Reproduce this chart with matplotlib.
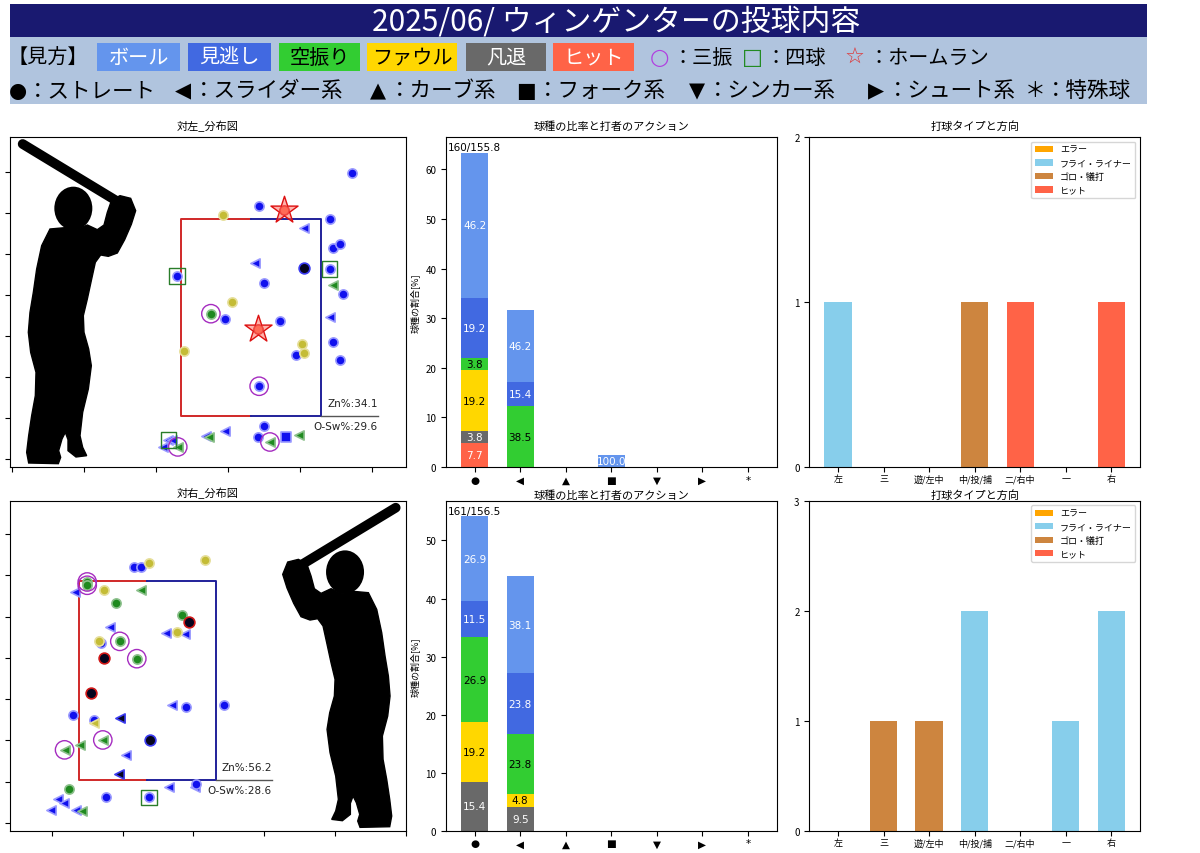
"""
Pitch summary sheet: location maps, pitch-type mix and batted-ball direction.
Writes out.png.
"""

import matplotlib

matplotlib.use("Agg")
import matplotlib.pyplot as plt
from matplotlib.patches import Ellipse, Polygon, Rectangle

plt.rcParams["font.family"] = ["Noto Sans CJK JP", "DejaVu Sans"]

TITLE = "2025/06/ ウィンゲンターの投球内容"

# ---- location maps (x, y in plot units) ---------------------------------
LHB_X = [3.43, 4.41, 4.46, 4.56, 2.29, 4.41, 3.50, 4.59, 2.96, 3.72, 4.45, 3.94, 4.56, 3.43, 3.50, 3.41, 4.72,
         2.93, 3.06, 2.38, 4.03, 4.06, 2.76, 4.05, 3.77, 3.41,
         4.05, 3.37, 4.41, 2.95, 2.09, 2.17, 2.22, 2.69,
         4.46, 2.73, 3.58, 3.98, 2.30, 3.80]
LHB_Y = [6.16, 5.84, 5.14, 5.23, 4.46, 4.63, 4.30, 4.02, 3.42, 3.37, 2.85, 2.53, 2.40, 1.77, 0.80, 0.53, 6.97,
         5.95, 3.83, 2.62, 2.81, 2.58, 3.54, 4.66, 6.08, 3.17,
         5.63, 4.78, 3.46, 0.68, 0.29, 0.46, 0.45, 0.56,
         4.24, 0.53, 0.41, 0.59, 0.29, 0.54]
LHB_PITCH = ["S"] * 26 + ["SL"] * 13 + ["FK"]
LHB_RES = (["ball"] * 6 + ["look", "ball", "look", "look", "ball", "look", "ball", "look", "ball", "ball", "ball"]
           + ["foul"] * 5 + ["swing", "out", "hit", "hit"]
           + ["ball"] * 8 + ["swing"] * 5 + ["ball"])
LHB_TAG = (["", "", "", "", "BB", "BB", "", "", "", "", "", "", "", "K", "", "", ""]
           + [""] * 5 + ["K", "", "HR", "HR"]
           + ["", "", "", "", "", "BB", "", ""]
           + ["", "", "K", "", "K", ""])

RHB_X = [1.16, 1.26, 2.43, 1.90, 0.30, 0.59, 0.70, 0.76, 1.37, 2.04,
         1.39, 0.74, 0.56, 1.94,
         1.37, 2.16, 0.74, 0.67, 1.77,
         0.50, 0.50, 0.90, 1.84, 0.96, 1.20, 0.24,
         0.96, 0.95, 0.59,
         1.26, 0.72, 0.18, 0.40, 0.42,
         0.33, 0.82, 1.61, 1.88, 1.69, 1.05, 1.65, 2.02, -0.01, 0.09, 0.17, 0.34]
RHB_Y = [6.21, 6.21, 2.86, 2.80, 2.62, 2.49, 4.37, 0.62, 0.62, 0.95,
         2.00, 4.00, 3.16, 4.88,
         6.29, 6.37, 5.64, 4.40, 4.63,
         5.84, 5.76, 5.34, 5.05, 4.40, 3.98, 0.82,
         2.54, 1.18, 2.41,
         5.64, 2.01, 1.77, 1.89, 0.29,
         5.60, 4.76, 4.61, 4.59, 2.86, 1.64, 0.88, 0.88, 0.31, 0.57, 0.49, 0.31]
RHB_PITCH = ["S"] * 26 + ["SL"] * 20
RHB_RES = (["ball", "ball", "look", "ball", "ball", "look", "ball", "ball", "ball", "look"]
           + ["out", "outR", "outR", "outR"] + ["foul"] * 5 + ["swing"] * 7
           + ["out", "out", "foul"] + ["swing"] * 5 + ["ball"] * 12)
RHB_TAG = ([""] * 8 + ["BB", ""] + [""] * 4 + [""] * 5
           + ["K", "K", "", "", "K", "K", ""]
           + [""] * 3 + ["", "K", "K", "", ""] + [""] * 12)

LHB_ZONE = (2.34, 1.05, 4.29, 5.86)
RHB_ZONE = (0.385, 1.05, 2.315, 5.86)
LHB_ZN, LHB_OSW = 34.1, 29.6
RHB_ZN, RHB_OSW = 56.2, 28.6

# ---- pitch mix (share of pitches, then % of each outcome) ---------------
PITCH_LABELS = ["●", "◀", "▲", "■", "▼", "▶", "*"]
LHB_SHARE = [63.4, 31.7, 0, 2.4, 0, 0, 0]
LHB_HIT = [7.7, 0, 0, 0, 0, 0, 0]
LHB_OUT = [3.8, 0, 0, 0, 0, 0, 0]
LHB_FOUL = [19.2, 0, 0, 0, 0, 0, 0]
LHB_SWING = [3.8, 38.5, 0, 0, 0, 0, 0]
LHB_LOOK = [19.2, 15.4, 0, 0, 0, 0, 0]
LHB_BALL = [46.2, 46.2, 0, 100.0, 0, 0, 0]
LHB_SPEED = "160/155.8"

RHB_SHARE = [54.2, 43.8, 0, 0, 0, 0, 0]
RHB_HIT = [0, 0, 0, 0, 0, 0, 0]
RHB_OUT = [15.4, 9.5, 0, 0, 0, 0, 0]
RHB_FOUL = [19.2, 4.8, 0, 0, 0, 0, 0]
RHB_SWING = [26.9, 23.8, 0, 0, 0, 0, 0]
RHB_LOOK = [11.5, 23.8, 0, 0, 0, 0, 0]
RHB_BALL = [26.9, 38.1, 0, 0, 0, 0, 0]
RHB_SPEED = "161/156.5"

# ---- batted balls --------------------------------------------------------
DIRECTIONS = ["左", "三", "遊/左中", "中/投/捕", "二/右中", "一", "右"]
LHB_ERR = [0, 0, 0, 0, 0, 0, 0]
LHB_FLY = [1, 0, 0, 0, 0, 0, 0]
LHB_GRO = [0, 0, 0, 1, 0, 0, 0]
LHB_BHIT = [0, 0, 0, 0, 1, 0, 1]
RHB_ERR = [0, 0, 0, 0, 0, 0, 0]
RHB_FLY = [0, 0, 0, 2, 0, 1, 2]
RHB_GRO = [0, 1, 1, 0, 0, 0, 0]
RHB_BHIT = [0, 0, 0, 0, 0, 0, 0]

# ---- styling -------------------------------------------------------------
C_BALL, C_LOOK, C_SWING = "#6495ED", "#4169E1", "#32CD32"
C_FOUL, C_OUT, C_HIT = "#FFD700", "#696969", "#FF6347"
SEG_TEXT = {"hit": "white", "out": "white", "foul": "black",
            "swing": "black", "look": "white", "ball": "white"}

MARKERS = {"S": "o", "SL": "<", "FK": "s"}
PT_FACE = {"ball": "#1010ee", "look": "#1010ee", "swing": "#1f8a1f", "foul": "#c4bc36",
           "out": "#05051e", "outR": "#05051e", "hit": "#FF6347"}
PT_EDGE = {"ball": "#9a9aff", "look": "#9a9aff", "swing": "#8cc08c", "foul": "#e6df9a",
           "out": "#3c3cf0", "outR": "#d01818", "hit": "#dd1010"}
DRAW_ORDER = ["ball", "look", "foul", "swing", "out", "outR", "hit"]

# batter outline (normalised to the left-hand panel, mirrored for the right one)
SIL_BODY = [(150, 330), (125, 380), (110, 450), (100, 520), (90, 580), (85, 640), (92, 700),
            (108, 760), (106, 830), (95, 890), (86, 950), (80, 1000), (86, 1032), (175, 1034),
            (182, 1015), (176, 995), (186, 960), (196, 940), (204, 962), (204, 995),
            (228, 1014), (260, 1010), (248, 985), (240, 950), (248, 880), (265, 810), (274, 740),
            (266, 690), (252, 640), (250, 590), (262, 540), (275, 480), (286, 430), (302, 408),
            (325, 412), (352, 402), (374, 362), (394, 316), (407, 275), (392, 238), (360, 230),
            (335, 243), (322, 280), (312, 318), (292, 332), (262, 318), (230, 332), (195, 326)]
SIL_HEAD = (220, 268, 114, 130)
SIL_BAT = [(68, 75), (360, 252)]


def sil_xy(zx, zy, mirror):
    fx = (zx / 3 - 10) / 396
    fy = (348 - zy / 3) / 330
    if mirror:
        fx = 1.006 - fx
    return fx, fy


def draw_batter(ax, mirror):
    body = [sil_xy(x, y, mirror) for x, y in SIL_BODY]
    ax.add_patch(Polygon(body, closed=True, facecolor="black", edgecolor="black",
                         transform=ax.transAxes, zorder=1))
    hx, hy = sil_xy(SIL_HEAD[0], SIL_HEAD[1], mirror)
    ax.add_patch(Ellipse((hx, hy), SIL_HEAD[2] / 3 / 396, SIL_HEAD[3] / 3 / 330,
                         facecolor="black", transform=ax.transAxes, zorder=1))
    bat = [sil_xy(x, y, mirror) for x, y in SIL_BAT]
    ax.plot([bat[0][0], bat[1][0]], [bat[0][1], bat[1][1]], color="black", lw=7,
            solid_capstyle="round", transform=ax.transAxes, zorder=1)


def draw_map(ax, xs, ys, pitches, results, tags, zone, zn, osw, xlim, ylim, title, mirror, pad):
    x0, y0, x1, y1 = zone
    mid = (x0 + x1) / 2
    ax.plot([mid, x0, x0, mid], [y1, y1, y0, y0], color="#d02828", lw=1.4, zorder=2)
    ax.plot([mid, x1, x1, mid], [y1, y1, y0, y0], color="#20209a", lw=1.4, zorder=2)
    ax.plot([x1, x1 + 0.79], [y0, y0], color="#555555", lw=1.0, zorder=2)
    ax.text(x1 + 0.79, y0 + 0.18, f"Zn%:{zn}", ha="right", va="bottom", fontsize=7.5,
            color="#222222", family="DejaVu Sans")
    ax.text(x1 + 0.79, y0 - 0.12, f"O-Sw%:{osw}", ha="right", va="top", fontsize=7.5,
            color="#222222", family="DejaVu Sans")

    for res in DRAW_ORDER:
        for ptype, marker in MARKERS.items():
            idx = [i for i in range(len(xs)) if results[i] == res and pitches[i] == ptype]
            if not idx:
                continue
            size = 60 if res in ("out", "outR") and ptype == "S" else 44
            ax.scatter([xs[i] for i in idx], [ys[i] for i in idx], marker=marker, s=size,
                       c=PT_FACE[res], edgecolors=PT_EDGE[res], linewidths=1.2, zorder=4)

    for tag, marker, size, edge in (("K", "o", 175, "#a52cc0"), ("BB", "s", 125, "#2a7d2a")):
        idx = [i for i in range(len(xs)) if tags[i] == tag]
        if idx:
            ax.scatter([xs[i] for i in idx], [ys[i] for i in idx], marker=marker, s=size,
                       facecolors="none", edgecolors=edge, linewidths=1.0, zorder=5)
    idx = [i for i in range(len(xs)) if tags[i] == "HR"]
    if idx:
        ax.scatter([xs[i] for i in idx], [ys[i] for i in idx], marker="*", s=420,
                   facecolors=(1.0, 0.45, 0.40, 0.55), edgecolors="#dd1010", linewidths=1.0,
                   zorder=5)

    draw_batter(ax, mirror)
    ax.set_xlim(*xlim)
    ax.set_ylim(*ylim)
    ax.set_xticks(range(0, 6))
    ax.set_yticks(range(0, 8))
    ax.set_xticklabels([])
    ax.set_yticklabels([])
    ax.set_title(title, fontsize=8, pad=pad)


def draw_mix(ax, share, segs, speed, pad):
    x = list(range(len(PITCH_LABELS)))
    bottom = [0.0] * len(x)
    for name, pct, color in segs:
        heights = [s * p / 100 for s, p in zip(share, pct)]
        ax.bar(x, heights, 0.6, bottom=bottom, color=color)
        for i, (h, p) in enumerate(zip(heights, pct)):
            if p > 0:
                ax.text(i, bottom[i] + h / 2, f"{p:.1f}", ha="center", va="center",
                        fontsize=7.5, color=SEG_TEXT[name], family="DejaVu Sans")
        bottom = [b + h for b, h in zip(bottom, heights)]
    ax.text(0, share[0], speed, ha="center", va="bottom", fontsize=7.5, family="DejaVu Sans")
    ax.set_xticks(x)
    ax.set_xticklabels(PITCH_LABELS, fontsize=7.5, family="DejaVu Sans")
    ax.tick_params(axis="x", pad=2)
    ax.tick_params(axis="y", labelsize=7)
    ax.set_ylabel("球種の割合[%]", fontsize=6.5)
    ax.set_title("球種の比率と打者のアクション", fontsize=8, pad=pad)


def draw_batted(ax, err, fly, gro, hit, pad):
    x = list(range(len(DIRECTIONS)))
    bottom = [0] * len(x)
    for vals, color, label in ((err, "#FFA500", "エラー"), (fly, "#87CEEB", "フライ・ライナー"),
                               (gro, "#CD853F", "ゴロ・犠打"), (hit, "#FF6347", "ヒット")):
        ax.bar(x, vals, 0.6, bottom=bottom, color=color, label=label)
        bottom = [b + v for b, v in zip(bottom, vals)]
    top = max(bottom) + 1
    ax.set_ylim(0, top)
    ax.set_yticks(range(0, top + 1))
    ax.set_xticks(x)
    ax.set_xticklabels(DIRECTIONS, fontsize=6.5)
    ax.tick_params(axis="x", pad=1.5)
    ax.tick_params(axis="y", labelsize=7)
    ax.legend(loc="upper right", fontsize=6.5)
    ax.set_title("打球タイプと方向", fontsize=8, pad=pad)


def draw_header(fig):
    hax = fig.add_axes([0, 1 - 110 / 854, 1, 110 / 854])
    hax.set_xlim(0, 1200)
    hax.set_ylim(110, 0)
    hax.axis("off")
    hax.add_patch(Rectangle((10, 5), 1137, 33, facecolor="#191970", edgecolor="none"))
    hax.add_patch(Rectangle((10, 38), 1137, 67, facecolor="#B0C4DE", edgecolor="none"))
    hax.text(616, 21.5, TITLE, ha="center", va="center", fontsize=21.5, color="white")

    y1, y2 = 58, 91
    hax.text(8, y1, "【見方】", ha="left", va="center", fontsize=14.5)
    boxes = [(97, 180, "ボール", C_BALL, "white"), (188, 271, "見逃し", C_LOOK, "white"),
             (279, 360, "空振り", C_SWING, "black"), (367, 457, "ファウル", C_FOUL, "black"),
             (466, 546, "凡退", C_OUT, "white"), (553, 634, "ヒット", C_HIT, "white")]
    for left, right, label, bg, fg in boxes:
        hax.add_patch(Rectangle((left, 44), right - left, 28, facecolor=bg, edgecolor="none"))
        hax.text((left + right) / 2, y1, label, ha="center", va="center", fontsize=14.5, color=fg)
    for cx, sym, color, tx, label in ((659, "○", "#b040e0", 672, "：三振"),
                                      (752, "□", "#228B22", 765, "：四球"),
                                      (855, "☆", "#e03030", 868, "：ホームラン")):
        hax.text(cx, y1, sym, ha="center", va="center", fontsize=16, color=color,
                 family="DejaVu Sans")
        hax.text(tx, y1, label, ha="left", va="center", fontsize=14.5)

    row2 = [(18, "●", 27, "：ストレート"), (183, "◀", 193, "：スライダー系"),
            (378, "▲", 389, "：カーブ系"), (526, "■", 537, "：フォーク系"),
            (697, "▼", 707, "：シンカー系"), (876, "▶", 887, "：シュート系"),
            (1035, "＊", 1045, "：特殊球")]
    for cx, sym, tx, label in row2:
        hax.text(cx, y2, sym, ha="center", va="center", fontsize=15,
                 family=["DejaVu Sans", "Noto Sans CJK JP"])
        hax.text(tx, y2, label, ha="left", va="center", fontsize=15.5)


def main():
    fig = plt.figure(figsize=(12, 8.54), dpi=100)
    draw_header(fig)

    h = 330 / 854
    top_b = (854 - 468) / 854
    bot_b = (854 - 831.7) / 854
    ax_l1 = fig.add_axes([10 / 1200, top_b, 396 / 1200, h])
    ax_m1 = fig.add_axes([446 / 1200, top_b, 330.7 / 1200, h])
    ax_r1 = fig.add_axes([809.3 / 1200, top_b, 330.7 / 1200, h])
    ax_l2 = fig.add_axes([10 / 1200, bot_b, 396 / 1200, h])
    ax_m2 = fig.add_axes([446 / 1200, bot_b, 330.7 / 1200, h])
    ax_r2 = fig.add_axes([809.3 / 1200, bot_b, 330.7 / 1200, h])

    draw_map(ax_l1, LHB_X, LHB_Y, LHB_PITCH, LHB_RES, LHB_TAG, LHB_ZONE, LHB_ZN, LHB_OSW,
             (-0.03, 5.47), (-0.2, 7.85), "対左_分布図", mirror=False, pad=6)
    draw_map(ax_l2, RHB_X, RHB_Y, RHB_PITCH, RHB_RES, RHB_TAG, RHB_ZONE, RHB_ZN, RHB_OSW,
             (-0.59, 4.89), (-0.19, 7.81), "対右_分布図", mirror=True, pad=3)

    draw_mix(ax_m1, LHB_SHARE,
             [("hit", LHB_HIT, C_HIT), ("out", LHB_OUT, C_OUT), ("foul", LHB_FOUL, C_FOUL),
              ("swing", LHB_SWING, C_SWING), ("look", LHB_LOOK, C_LOOK), ("ball", LHB_BALL, C_BALL)],
             LHB_SPEED, pad=6)
    draw_mix(ax_m2, RHB_SHARE,
             [("hit", RHB_HIT, C_HIT), ("out", RHB_OUT, C_OUT), ("foul", RHB_FOUL, C_FOUL),
              ("swing", RHB_SWING, C_SWING), ("look", RHB_LOOK, C_LOOK), ("ball", RHB_BALL, C_BALL)],
             RHB_SPEED, pad=2)

    draw_batted(ax_r1, LHB_ERR, LHB_FLY, LHB_GRO, LHB_BHIT, pad=6)
    draw_batted(ax_r2, RHB_ERR, RHB_FLY, RHB_GRO, RHB_BHIT, pad=2)

    fig.savefig("out.png", dpi=100)
    plt.close(fig)


if __name__ == "__main__":
    main()
